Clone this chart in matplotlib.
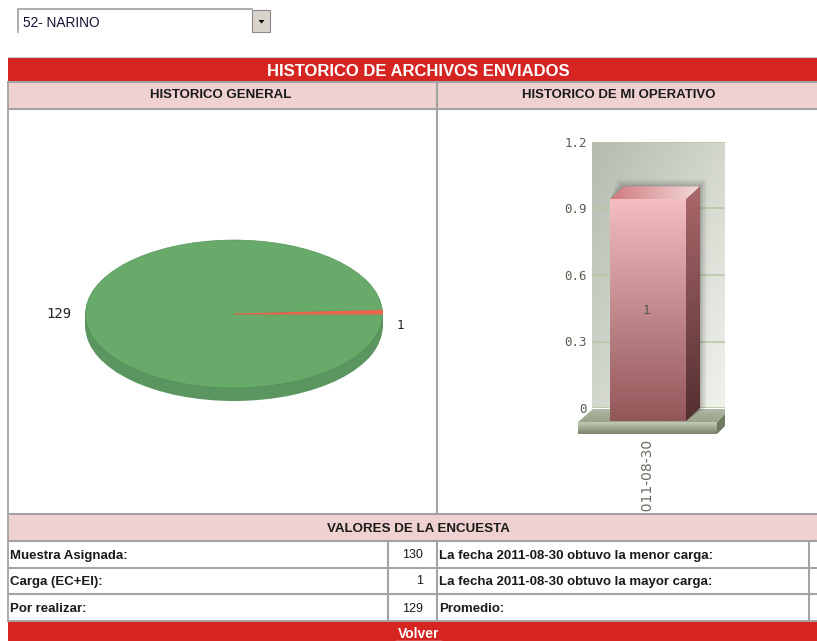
import matplotlib
matplotlib.use("Agg")
import matplotlib.pyplot as plt
import numpy as np
from matplotlib.patches import Polygon, Rectangle

W, H = 817, 641

# data
selected = "52- NARINO"
page_title = "HISTORICO DE ARCHIVOS ENVIADOS"
left_header = "HISTORICO GENERAL"
right_header = "HISTORICO DE MI OPERATIVO"
pie_values = [1, 129]
bar_dates = ["2011-08-30"]
bar_values = [1]
y_ticks = [0, 0.3, 0.6, 0.9, 1.2]
y_tick_labels = ["0", "0.3", "0.6", "0.9", "1.2"]
survey_title = "VALORES DE LA ENCUESTA"
row_names = ["Muestra Asignada:", "Carga (EC+EI):", "Por realizar:"]
row_values = [130, 1, 129]
row_notes = ["La fecha 2011-08-30 obtuvo la menor carga:",
             "La fecha 2011-08-30 obtuvo la mayor carga:",
             "Promedio:"]
footer = "Volver"

RED = "#d62421"
PINK = "#efd1d1"
LINE = "#a3a3a3"
SANS = "Liberation Sans"
MONO = "DejaVu Sans Mono"


def px_axes(fig, x0, y0, x1, y1, **kw):
    return fig.add_axes([x0 / W, 1 - y1 / H, (x1 - x0) / W, (y1 - y0) / H], **kw)


def gradient(c0, c1, n=128, horizontal=False):
    c0, c1 = np.array(matplotlib.colors.to_rgb(c0)), np.array(matplotlib.colors.to_rgb(c1))
    t = np.linspace(0, 1, n)[:, None]
    img = (c0 * (1 - t) + c1 * t)[:, None, :]
    return img.transpose(1, 0, 2) if horizontal else img


def fill_grad(ax, patch, img, extent, transform=None, zorder=3):
    im = ax.imshow(img, extent=extent, aspect="auto", origin="upper", zorder=zorder,
                   transform=transform if transform is not None else ax.transData)
    # imshow leaves the axes box as clip, the 3D faces hang out below it
    im.set_clip_box(fig.bbox)
    im.set_clip_path(patch)
    return im


fig = plt.figure(figsize=(W / 100, H / 100), dpi=100, facecolor="white")

# page furniture in pixel coordinates
bg = px_axes(fig, 0, 0, W, H)
bg.set_xlim(0, W)
bg.set_ylim(H, 0)
bg.axis("off")


def box(x0, y0, x1, y1, color, edge=None, lw=0):
    bg.add_patch(Rectangle((x0, y0), x1 - x0, y1 - y0, facecolor=color,
                           edgecolor=edge if edge else color, linewidth=lw))


def label(x, y, s, size=9, weight="bold", color="#1a1a1a", ha="center"):
    bg.text(x, y, s, fontsize=size, fontweight=weight, color=color, ha=ha, va="center",
            family=SANS)


# drop-down
bg.plot([18, 18, 252], [32, 9, 9], color="#a0a0a0", lw=1.2)
label(23, 23, selected, size=9.8, weight="normal", color="#111133", ha="left")
box(252, 10, 270, 32, "#d8d4cc", edge="#8a8a8a", lw=0.8)
bg.add_patch(Polygon([(258.5, 20), (264.5, 20), (261.5, 23.5)], facecolor="black",
                     edgecolor="none"))

# table grid
box(8, 57, W, 81, RED)
box(8, 82, W, 108, PINK)
box(8, 515, W, 540, PINK)
box(8, 621, W, H, RED)
bg.plot([8, W], [56.5, 56.5], color="#c8c8c8", lw=0.8)
for y in [81.5, 108.5, 513.5, 540.5, 567.5, 593.5, 620.5]:
    bg.plot([8, W], [y, y], color=LINE, lw=1.5)
bg.plot([8, 8], [82, 621], color=LINE, lw=1.3)
bg.plot([437, 437], [82, 514], color=LINE, lw=1.5)
for x in [388, 437, 809]:
    bg.plot([x, x], [541, 620], color=LINE, lw=1.5)

label(418.5, 71, page_title, size=12, color="white")
label(221, 95.5, left_header, size=9.5)
label(619, 95.5, right_header, size=9.5)
label(418, 528.5, survey_title, size=9.6)
for y, name, val, note in zip([555.5, 581.5, 608.5], row_names, row_values, row_notes):
    label(10, y, name, size=9.5, ha="left")
    label(423, y, str(val), size=9, weight="normal", ha="right")
    label(439, y, note, size=9.5, ha="left")
label(418.5, 634, footer, color="white", size=10)
bg.plot([396, 441], [640.5, 640.5], color="white", lw=1)

# pie, flattened into an ellipse
pie_ax = px_axes(fig, 85.5, 240, 382.5, 388)
pie_ax.patch.set_visible(False)
for d in np.arange(13, 0, -1):
    pie_ax.pie(pie_values, startangle=0, colors=["#c4574a", "#5b9560"],
               center=(0, -d / 74), radius=1, wedgeprops={"linewidth": 0, "clip_on": False})
wedges, _ = pie_ax.pie(pie_values, startangle=0, colors=["#ee6350", "#68aa69"], center=(0, 0),
                       radius=1, wedgeprops={"linewidth": 0.4, "edgecolor": "#4f8f55",
                                             "clip_on": False})
wedges[0].set_zorder(wedges[1].get_zorder() + 1)
wedges[0].set_edgecolor("#ee6350")
wedges[0].set_linewidth(0.7)
pie_ax.set_aspect("auto")
pie_ax.set_xlim(-1, 1)
pie_ax.set_ylim(-1, 1)
pie_ax.text(-1.18, 0, str(pie_values[1]), family=MONO, fontsize=10, color="#222222",
            ha="center", va="center")
pie_ax.text(1.12, -0.16, str(pie_values[0]), family=MONO, fontsize=9, color="#222222",
            ha="center", va="center")

# 3D style column chart
ax = px_axes(fig, 592, 142, 725, 408)
bar_w = 76.0
depth_x, depth_y = 14.0, 13.0
ax.set_xlim(-(32 + bar_w / 2) / bar_w, (133 - 32 - bar_w / 2) / bar_w)
ax.set_ylim(0, 1.2)
px_y = 266 / 1.2
dx, dy = depth_x / bar_w, depth_y / px_y

xx, yy = np.meshgrid(np.linspace(0, 1, 64), np.linspace(0, 1, 64))
t = ((xx + yy) / 2)[:, :, None]
wall = np.array(matplotlib.colors.to_rgb("#b5bbaf")) * (1 - t) + \
    np.array(matplotlib.colors.to_rgb("#f0f3ec")) * t
ax.imshow(wall, extent=(0, 1, 0, 1), transform=ax.transAxes, aspect="auto", zorder=0)

ax.set_yticks(y_ticks, y_tick_labels, family=MONO, fontsize=9, color="#555f4d")
ax.set_xticks([])
ax.tick_params(axis="y", length=0, pad=3.5)
ax.yaxis.grid(True, color="#b6c6a2", linewidth=1.1)
ax.set_axisbelow("line")
for s in ax.spines.values():
    s.set_visible(False)

# floor
floor_top = Polygon([(578, 422), (717, 422), (725, 414), (725, 409), (593, 409)],
                    transform=bg.transData, facecolor="none", edgecolor="none", clip_on=False)
floor_front = Rectangle((578, 422), 139, 12, transform=bg.transData, facecolor="none",
                        edgecolor="none", clip_on=False)
floor_side = Polygon([(717, 422), (725, 414), (725, 426), (717, 434)], transform=bg.transData,
                     facecolor="#6f7a63", edgecolor="none", clip_on=False, zorder=2)
ax.add_patch(floor_top)
ax.add_patch(floor_front)
ax.add_patch(floor_side)
fill_grad(ax, floor_top, gradient("#aeb7a2", "#98a389"), (578, 725, 422, 409), bg.transData, 2)
fill_grad(ax, floor_front, gradient("#c3cbb8", "#79846c"), (578, 717, 434, 422), bg.transData, 2)

# columns
for i, (date, value) in enumerate(zip(bar_dates, bar_values)):
    x0, x1 = i - 0.5, i + 0.5
    for grow, alpha in [(7, 0.04), (5, 0.06), (3, 0.08), (1, 0.1)]:
        gx, gy = grow / bar_w, grow / px_y
        ax.add_patch(Polygon([(x0 - gx, value + gy), (x1 + gx, value + gy), (x1 + gx, 0),
                              (x1 - dx, -dy), (x0 - dx, value - dy)],
                             facecolor="black", alpha=alpha, edgecolor="none", zorder=2.5,
                             clip_on=False))
    front = ax.bar(i - dx, value, 1.0, bottom=-dy, facecolor="none", edgecolor="none",
                   clip_on=False, zorder=3)[0]
    fill_grad(ax, front, gradient("#f3bdc1", "#925759"),
              (x0 - dx, x1 - dx, -dy, value - dy), zorder=3)
    top = Polygon([(x0 - dx, value - dy), (x1 - dx, value - dy), (x1, value), (x0, value)],
                  facecolor="none", edgecolor="none", clip_on=False)
    ax.add_patch(top)
    fill_grad(ax, top, gradient("#d0797e", "#f3dad9", horizontal=True),
              (x0 - dx, x1, value - dy, value), zorder=3)
    side = Polygon([(x1 - dx, value - dy), (x1, value), (x1, 0), (x1 - dx, -dy)],
                   facecolor="none", edgecolor="none", clip_on=False)
    ax.add_patch(side)
    fill_grad(ax, side, gradient("#ab686b", "#532f30"), (x1 - dx, x1, -dy, value), zorder=3)
    ax.text(i - dx - 2 / bar_w, value / 2 - dy, str(value), family=MONO, fontsize=9,
            color="#4f5a48", ha="center", va="center", zorder=4)
    tick = ax.annotate(date, xy=(i, 0), xytext=(-11, -22.5), textcoords="offset points",
                       rotation=90, ha="center", va="top", fontsize=10, color="#666f60",
                       family="DejaVu Sans", annotation_clip=False)
    tick.set_clip_on(True)
    tick.set_clip_path(Rectangle((437, 415), 300, 98, transform=bg.transData))

ax.set_xlim(-(32 + bar_w / 2) / bar_w, (133 - 32 - bar_w / 2) / bar_w)
ax.set_ylim(0, 1.2)

fig.savefig("out.png", dpi=100)
